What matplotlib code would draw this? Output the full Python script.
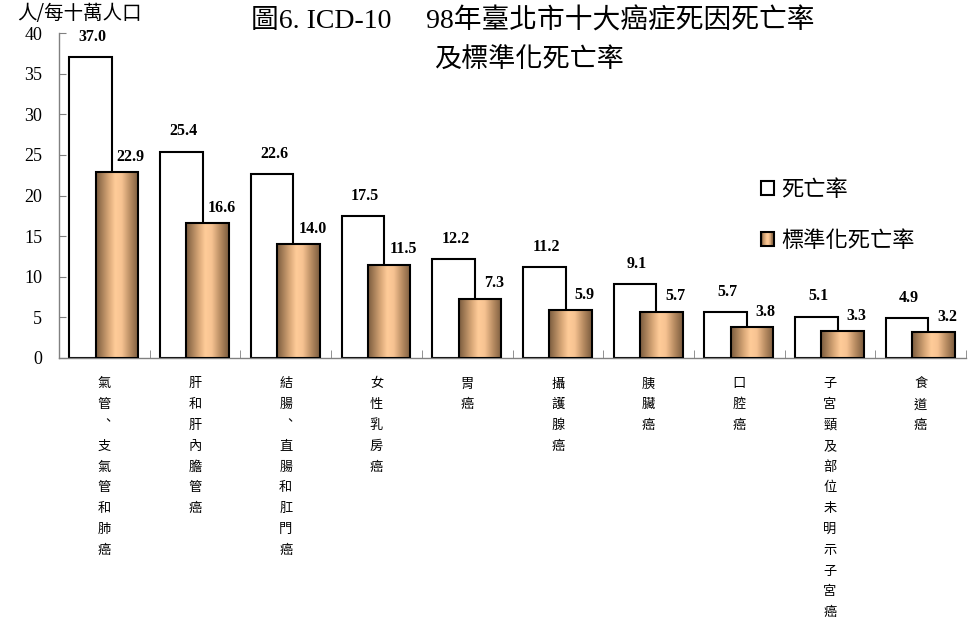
import numpy as np
import matplotlib
matplotlib.use("Agg")
import matplotlib.pyplot as plt
from matplotlib.patches import Rectangle, Patch
from matplotlib.legend_handler import HandlerBase
from matplotlib.colors import LinearSegmentedColormap

# ---------------- data ----------------
categories = ["氣管、支氣管和肺癌", "肝和肝內膽管癌", "結腸、直腸和肛門癌", "女性乳房癌", "胃癌",
              "攝護腺癌", "胰臟癌", "口腔癌", "子宮頸及部位未明示子宮癌", "食道癌"]
crude_rate = [37.0, 25.4, 22.6, 17.5, 12.2, 11.2, 9.1, 5.7, 5.1, 4.9]
std_rate = [22.9, 16.6, 14.0, 11.5, 7.3, 5.9, 5.7, 3.8, 3.3, 3.2]
series_names = ["死亡率", "標準化死亡率"]
yticks = [0, 5, 10, 15, 20, 25, 30, 35, 40]
title_line1 = "圖6. ICD-10\u3000 98年臺北市十大癌症死因死亡率"
title_line2 = "及標準化死亡率"
unit_label = "人/每十萬人口"

CJK = "Noto Sans CJK TC"
SERIF_MIX = ["Liberation Serif", CJK]
plt.rcParams["font.family"] = [CJK, "DejaVu Sans"]

grad_cmap = LinearSegmentedColormap.from_list(
    "cyl", [(0.0, "#7a5b3d"), (0.3, "#d9a878"), (0.45, "#ffcc99"),
            (0.6, "#f7c392"), (0.8, "#b88c62"), (1.0, "#7a5b3d")])

fig = plt.figure(figsize=(9.78, 6.24), dpi=100)
ax = fig.add_axes([59 / 978, 1 - 358 / 624, (966 - 59) / 978, (358 - 33) / 624])

x = np.arange(len(categories))
w = 0.47
wb = ax.bar(x - 0.15, crude_rate, width=w, facecolor="white", edgecolor="black",
            linewidth=1.5, zorder=2)
ob = ax.bar(x + 0.14, std_rate, width=w, facecolor="none", edgecolor="black",
            linewidth=1.5, zorder=4)

grad = np.linspace(0, 1, 256).reshape(1, -1)
for p in ob.patches:
    x0, y0 = p.get_x(), p.get_y()
    im = ax.imshow(grad, cmap=grad_cmap, aspect="auto", interpolation="bicubic",
                   extent=(x0, x0 + p.get_width(), y0, y0 + p.get_height()),
                   zorder=3)
    im.set_clip_path(p)

ax.set_xlim(-0.5, len(categories) - 0.5)
ax.set_ylim(0, 40)

# value labels
for p, v in zip(wb.patches, crude_rate):
    ax.annotate(f"{v:.1f}", (p.get_x() + p.get_width() / 2, p.get_height()),
                xytext=(1.5, 14.5), textcoords="offset points", ha="center", va="center",
                fontsize=11.5, fontweight="bold", family="Liberation Serif", zorder=6)
for p, v in zip(ob.patches, std_rate):
    ax.annotate(f"{v:.1f}", (p.get_x() + p.get_width() / 2, p.get_height()),
                xytext=(10, 11), textcoords="offset points", ha="center", va="center",
                fontsize=11.5, fontweight="bold", family="Liberation Serif", zorder=6)

# axes styling
for s in ["top", "right"]:
    ax.spines[s].set_visible(False)
for s in ["left", "bottom"]:
    ax.spines[s].set_color("#808080")
    ax.spines[s].set_linewidth(1.0)

ax.set_yticks(yticks)
ax.set_yticklabels([str(t) for t in yticks], family="Liberation Serif", fontsize=13)
ax.tick_params(axis="y", direction="in", length=5, color="#808080", pad=12)

vert_labels = ["\n".join(c.replace("、", "\ufe11")) for c in categories]
ax.set_xticks(x)
ax.set_xticklabels(vert_labels, family=CJK, fontsize=9.5, linespacing=1.78)
ax.tick_params(axis="x", which="major", length=0, pad=14)
ax.set_xticks(np.arange(len(categories) + 1) - 0.5, minor=True)
ax.tick_params(axis="x", which="minor", direction="in", length=6, color="#808080")

# legend
class GradientHandler(HandlerBase):
    def create_artists(self, legend, orig_handle, xdescent, ydescent, width, height,
                       fontsize, trans):
        n = 16
        arts = []
        for k in range(n):
            arts.append(Rectangle((-xdescent + width * k / n, -ydescent), width / n, height,
                                  facecolor=grad_cmap((k + 0.5) / n), edgecolor="none",
                                  transform=trans))
        arts.append(Rectangle((-xdescent, -ydescent), width, height, facecolor="none",
                              edgecolor="black", linewidth=1.5, transform=trans))
        return arts

h_white = Patch(facecolor="white", edgecolor="black", linewidth=1.5)
h_grad = Patch(facecolor="#ffcc99", edgecolor="black")
leg = ax.legend([h_white, h_grad], series_names, handler_map={h_grad: GradientHandler()},
                loc="upper left", bbox_to_anchor=(761 / 978, 1 - 178 / 624),
                bbox_transform=fig.transFigure, frameon=False, fontsize=16,
                handlelength=0.58, handleheight=0.58, handletextpad=0.35,
                labelspacing=1.25, borderpad=0, borderaxespad=0)

# titles
fig.text(533 / 978, 1 - 22 / 624, title_line1, ha="center", va="center",
         fontsize=20, family=SERIF_MIX)
fig.text(529 / 978, 1 - 60 / 624, title_line2, ha="center", va="center",
         fontsize=19.5, family=SERIF_MIX)
fig.text(17 / 978, 1 - 14 / 624, unit_label, ha="left", va="center", fontsize=14,
         family=CJK)

fig.savefig("out.png", dpi=100)
